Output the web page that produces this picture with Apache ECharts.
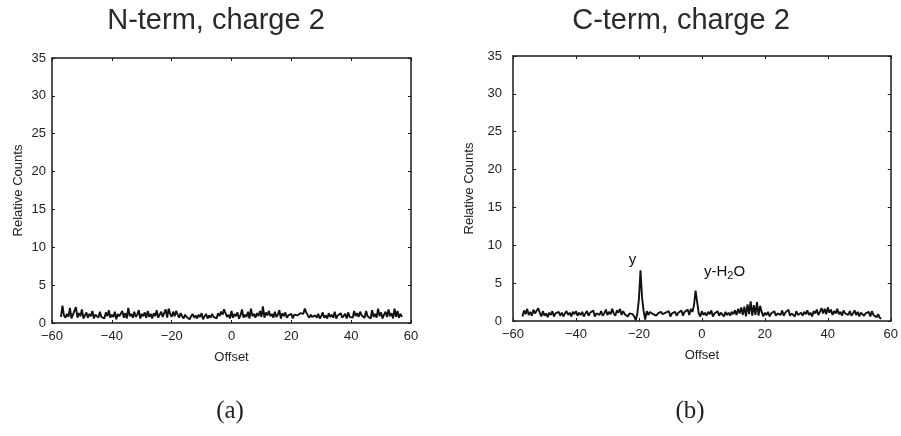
<!DOCTYPE html>
<html>
<head>
<meta charset="utf-8">
<script src="https://cdn.jsdelivr.net/npm/echarts@6/dist/echarts.min.js"></script>
<style>
html,body{margin:0;padding:0;background:#fff;}
#chart{width:901px;height:436px;}
</style>
</head>
<body>
<div id="chart"></div>
<script>
// Offsets (x values), shared by both panels
var offsets = [
  -57,-56.5,-56,-55.5,-55,-54.5,-54,-53.5,-53,-52.5,
  -52,-51.5,-51,-50.5,-50,-49.5,-49,-48.5,-48,-47.5,
  -47,-46.5,-46,-45.5,-45,-44.5,-44,-43.5,-43,-42.5,
  -42,-41.5,-41,-40.5,-40,-39.5,-39,-38.5,-38,-37.5,
  -37,-36.5,-36,-35.5,-35,-34.5,-34,-33.5,-33,-32.5,
  -32,-31.5,-31,-30.5,-30,-29.5,-29,-28.5,-28,-27.5,
  -27,-26.5,-26,-25.5,-25,-24.5,-24,-23.5,-23,-22.5,
  -22,-21.5,-21,-20.5,-20,-19.5,-19,-18.5,-18,-17.5,
  -17,-16.5,-16,-15.5,-15,-14.5,-14,-13.5,-13,-12.5,
  -12,-11.5,-11,-10.5,-10,-9.5,-9,-8.5,-8,-7.5,
  -7,-6.5,-6,-5.5,-5,-4.5,-4,-3.5,-3,-2.5,
  -2,-1.5,-1,-0.5,0,0.5,1,1.5,2,2.5,
  3,3.5,4,4.5,5,5.5,6,6.5,7,7.5,
  8,8.5,9,9.5,10,10.5,11,11.5,12,12.5,
  13,13.5,14,14.5,15,15.5,16,16.5,17,17.5,
  18,18.5,19,19.5,20,20.5,21,21.5,22,22.5,
  23,23.5,24,24.5,25,25.5,26,26.5,27,27.5,
  28,28.5,29,29.5,30,30.5,31,31.5,32,32.5,
  33,33.5,34,34.5,35,35.5,36,36.5,37,37.5,
  38,38.5,39,39.5,40,40.5,41,41.5,42,42.5,
  43,43.5,44,44.5,45,45.5,46,46.5,47,47.5,
  48,48.5,49,49.5,50,50.5,51,51.5,52,52.5,
  53,53.5,54,54.5,55,55.5,56,56.5,57
];

// (a) N-term, charge 2
var nTermCounts = [
  0.8,2.3,1.0,0.7,1.2,0.8,2.0,0.6,1.1,0.9,
  2.1,0.7,1.3,0.9,1.8,0.6,1.0,1.4,0.7,1.2,
  0.9,1.6,0.6,1.1,1.3,0.7,1.5,0.8,1.0,0.6,
  1.4,0.9,1.7,0.7,1.1,0.8,1.5,0.5,1.2,0.9,
  1.0,1.6,0.7,1.3,0.6,2.0,0.9,1.2,0.7,1.5,
  0.8,1.1,1.7,0.6,1.2,0.9,1.4,0.7,1.6,0.8,
  1.2,0.6,1.3,0.9,1.7,0.7,1.1,1.5,0.8,1.3,
  1.8,0.7,1.9,1.2,0.8,1.5,0.9,1.6,1.1,0.7,
  1.3,0.9,0.6,1.1,0.8,1.0,0.5,0.9,1.2,0.7,
  1.0,0.6,1.1,0.8,1.3,0.5,0.9,1.2,0.6,1.0,
  0.7,1.2,0.8,1.0,0.6,1.3,0.9,1.5,1.1,1.8,
  1.3,0.8,1.1,0.6,1.6,0.7,1.2,0.9,1.4,0.6,
  1.0,1.8,0.7,1.1,0.8,1.5,0.6,1.9,0.9,1.2,
  0.7,1.3,0.9,1.6,0.8,2.2,0.7,1.4,1.0,1.6,
  0.9,1.2,0.7,1.5,0.8,1.1,1.7,0.6,1.3,0.9,
  1.4,0.7,1.0,0.8,1.2,0.6,1.1,0.9,1.0,0.8,
  1.3,1.5,1.2,1.9,1.4,1.0,0.7,1.1,0.8,0.6,
  1.0,0.7,1.2,0.6,0.9,1.4,0.7,1.0,0.6,1.3,
  0.8,1.1,0.7,1.5,0.6,1.0,0.8,1.3,0.7,0.9,
  1.2,0.6,1.4,0.8,1.0,0.7,1.6,0.9,1.3,0.8,
  1.5,1.0,1.2,0.7,1.6,0.9,1.1,0.6,1.7,0.8,
  1.2,0.7,1.9,0.9,1.4,0.6,1.1,1.5,0.8,1.8,
  0.9,1.3,0.6,1.9,0.8,1.6,0.7,1.2,0.8
];

// (b) C-term, charge 2
var cTermCounts = [
  0.6,1.4,0.9,1.6,0.8,1.2,0.7,1.5,1.0,0.8,
  1.7,1.1,0.6,1.3,0.7,1.0,0.5,1.1,0.8,1.3,
  0.6,1.0,0.9,1.2,0.7,1.1,0.6,1.0,1.3,0.8,
  1.1,0.6,1.2,0.9,1.3,0.7,1.1,0.8,1.2,0.6,
  1.0,1.3,0.7,1.1,0.9,1.4,0.6,1.0,1.2,0.8,
  1.3,0.7,1.0,1.5,0.8,1.2,0.9,1.6,1.0,0.7,
  1.4,1.1,1.6,0.8,1.3,0.9,1.1,0.6,1.0,0.8,
  0.9,0.6,0.1,1.0,2.9,6.7,3.1,1.3,0.2,1.3,
  0.8,1.2,1.0,0.9,1.1,0.7,1.0,0.8,1.2,0.9,
  0.7,1.1,0.9,1.3,0.6,1.0,0.8,1.2,0.7,1.1,
  0.9,1.4,0.7,1.2,1.0,1.5,0.8,1.6,1.2,2.1,
  4.0,2.5,1.0,0.6,1.3,0.8,1.1,0.7,1.2,0.9,
  1.4,0.6,1.0,0.8,1.3,0.7,1.1,0.9,0.6,1.2,
  0.8,1.1,0.7,1.2,0.9,1.4,0.8,1.6,1.0,1.8,
  0.8,1.9,0.6,2.2,0.9,2.6,0.7,2.1,0.8,2.5,
  0.7,2.0,1.2,0.6,1.1,0.8,1.2,0.6,1.0,0.9,
  1.3,0.7,1.0,1.2,0.8,1.4,0.7,1.1,0.9,1.5,
  0.7,1.0,1.2,0.6,1.3,0.8,1.0,1.1,0.7,1.2,
  0.9,1.4,0.8,1.1,0.6,1.3,1.0,1.5,0.8,1.2,
  1.7,1.0,1.6,0.9,1.8,1.1,1.5,0.8,1.3,1.0,
  1.6,0.9,1.2,0.7,1.4,1.0,1.1,0.8,1.3,0.7,
  1.0,1.4,0.8,1.2,0.6,1.1,1.3,0.7,1.0,0.9,
  1.2,0.6,1.3,0.8,1.0,0.5,0.9,0.4,0.3
];

var panelTitles = ['N-term, charge 2', 'C-term, charge 2'];
var panelLetters = ['(a)', '(b)'];
var xTicks = {min: -60, max: 60, interval: 20};
var yTicks = {min: 0, max: 35, interval: 5};
var peakLabels = [
  {text: 'y', x: -19.5, y: 6.7},
  {text: 'y-H{s|2}O', x: -2, y: 4.0}
];

var chart = echarts.init(document.getElementById('chart'), null, {renderer: 'canvas'});
var FONT = '"Liberation Sans", Arial, sans-serif';
var AX = '#1a1a1a';

function fmtNum(v){ return String(v).replace('-', '\u2212'); }

function xAxisPair(gi){
  return [
    {
      gridIndex: gi, type: 'value', position: 'bottom',
      min: xTicks.min, max: xTicks.max, interval: xTicks.interval,
      axisLine: {show: true, onZero: false, lineStyle: {color: AX, width: 1.5}},
      axisTick: {show: true, inside: true, length: 3, lineStyle: {color: AX, width: 1}},
      axisLabel: {color: '#222', fontFamily: FONT, fontSize: 13, margin: 7, formatter: fmtNum},
      splitLine: {show: false},
      name: 'Offset', nameLocation: 'middle', nameGap: 28,
      nameTextStyle: {color: '#222', fontFamily: FONT, fontSize: 13}
    },
    {
      gridIndex: gi, type: 'value', position: 'top',
      min: xTicks.min, max: xTicks.max, interval: xTicks.interval,
      axisLine: {show: true, onZero: false, lineStyle: {color: AX, width: 1.5}},
      axisTick: {show: true, inside: true, length: 3, lineStyle: {color: AX, width: 1}},
      axisLabel: {show: false}, splitLine: {show: false}
    }
  ];
}
function yAxisPair(gi, labelMargin, nameGap){
  return [
    {
      gridIndex: gi, type: 'value', position: 'left',
      min: yTicks.min, max: yTicks.max, interval: yTicks.interval,
      axisLine: {show: true, onZero: false, lineStyle: {color: AX, width: 1.5}},
      axisTick: {show: true, inside: true, length: 3, lineStyle: {color: AX, width: 1}},
      axisLabel: {color: '#222', fontFamily: FONT, fontSize: 13, margin: labelMargin},
      splitLine: {show: false},
      name: 'Relative Counts', nameLocation: 'middle', nameGap: nameGap, nameRotate: 90,
      nameTextStyle: {color: '#222', fontFamily: FONT, fontSize: 13}
    },
    {
      gridIndex: gi, type: 'value', position: 'right',
      min: yTicks.min, max: yTicks.max, interval: yTicks.interval,
      axisLine: {show: true, onZero: false, lineStyle: {color: AX, width: 1.5}},
      axisTick: {show: true, inside: true, length: 3, lineStyle: {color: AX, width: 1}},
      axisLabel: {show: false}, splitLine: {show: false}
    }
  ];
}

var dataN = offsets.map(function(x, i){ return [x, nTermCounts[i]]; });
var dataC = offsets.map(function(x, i){ return [x, cTermCounts[i]]; });

var labelOffsets = [[-8, -1], [29, -7]];

var option = {
  animation: false,
  backgroundColor: '#fff',
  grid: [
    {left: 52, top: 58, width: 359, height: 265},
    {left: 513, top: 56, width: 382, height: 265}
  ],
  xAxis: xAxisPair(0).concat(xAxisPair(1)),
  yAxis: yAxisPair(0, 6, 27).concat(yAxisPair(1, 11, 37)),
  series: [
    {
      type: 'line', xAxisIndex: 0, yAxisIndex: 0, data: dataN,
      showSymbol: false, symbol: 'none',
      lineStyle: {color: '#111', width: 1.9}
    },
    {
      type: 'line', xAxisIndex: 2, yAxisIndex: 2, data: dataC,
      showSymbol: false, symbol: 'none',
      lineStyle: {color: '#111', width: 1.9},
      markPoint: {
        symbol: 'circle', symbolSize: 0,
        data: peakLabels.map(function(p, i){
          return {
            coord: [p.x, p.y],
            label: {
              show: true, formatter: p.text, position: 'top', distance: 2,
              offset: labelOffsets[i],
              color: '#111', fontFamily: FONT, fontSize: 15,
              rich: {s: {fontSize: 11, verticalAlign: 'bottom', padding: [9, 0, 0, 0], fontFamily: FONT, color: '#111'}}
            }
          };
        })
      }
    }
  ],
  graphic: [
    {type: 'text', x: 216, y: 21, style: {text: panelTitles[0], fill: '#2a2a2a', font: '29px "Liberation Sans", Arial, sans-serif', textAlign: 'center', textVerticalAlign: 'middle'}},
    {type: 'text', x: 681, y: 21, style: {text: panelTitles[1], fill: '#2a2a2a', font: '29px "Liberation Sans", Arial, sans-serif', textAlign: 'center', textVerticalAlign: 'middle'}},
    {type: 'text', x: 230, y: 411, style: {text: panelLetters[0], fill: '#222', font: '25px "Liberation Serif", "Times New Roman", serif', textAlign: 'center', textVerticalAlign: 'middle'}},
    {type: 'text', x: 690, y: 411, style: {text: panelLetters[1], fill: '#222', font: '25px "Liberation Serif", "Times New Roman", serif', textAlign: 'center', textVerticalAlign: 'middle'}}
  ]
};
chart.setOption(option);
</script>
</body>
</html>
